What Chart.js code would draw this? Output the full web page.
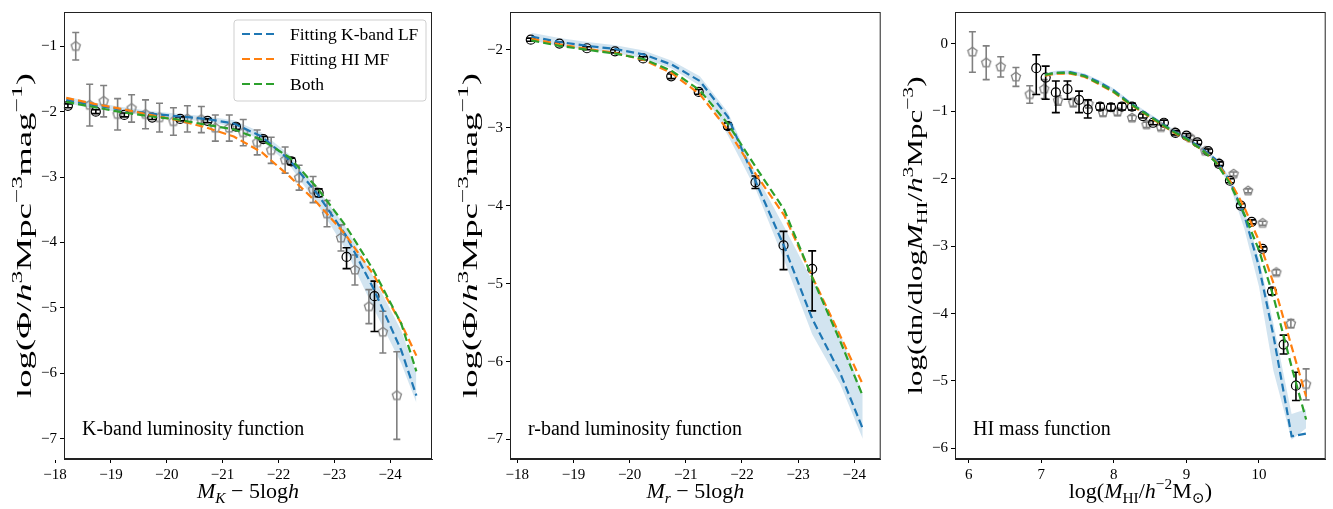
<!DOCTYPE html>
<html>
<head>
<meta charset="utf-8">
<script src="https://cdn.jsdelivr.net/npm/chart.js@4.4.0/dist/chart.umd.min.js"></script>
<style>
  html, body { margin: 0; padding: 0; background: #fff; }
  #wrap { position: relative; width: 1333px; height: 509px; overflow: hidden; }
  canvas { position: absolute; top: 0; }
</style>
</head>
<body>
<div id="wrap">
  <canvas id="kband" width="442" height="509" style="left:0px;width:442px;height:509px"></canvas>
  <canvas id="rband" width="444" height="509" style="left:446px;width:444px;height:509px"></canvas>
  <canvas id="himf" width="443" height="509" style="left:890px;width:443px;height:509px"></canvas>
</div>
<script>
const SERIF = '"Liberation Serif", "DejaVu Serif", serif';
const seriesNames = ['Fitting K-band LF', 'Fitting HI MF', 'Both'];

// ---- K-band luminosity function ----
const kTicksX = [-18, -19, -20, -21, -22, -23, -24];
const kTicksY = [-1, -2, -3, -4, -5, -6, -7];
const kLineX  = [-18.2, -18.7, -19.2, -19.7, -20.2, -20.7, -21.2, -21.7, -22.2, -22.7, -23.2, -23.7, -24.2, -24.47];
const kBlue   = [-1.82, -1.90, -1.97, -2.03, -2.07, -2.11, -2.18, -2.38, -2.74, -3.26, -3.88, -4.70, -5.65, -6.34];
const kOrange = [-1.79, -1.88, -1.96, -2.05, -2.13, -2.24, -2.38, -2.62, -2.99, -3.40, -3.88, -4.49, -5.24, -5.73];
const kGreen  = [-1.85, -1.93, -2.01, -2.07, -2.12, -2.20, -2.27, -2.43, -2.70, -3.17, -3.74, -4.42, -5.24, -5.97];
const kBandHi = [-1.77, -1.86, -1.93, -1.99, -2.03, -2.07, -2.13, -2.32, -2.66, -3.18, -3.76, -4.52, -5.35, -6.00];
const kBandLo = [-1.87, -1.95, -2.01, -2.07, -2.11, -2.15, -2.23, -2.44, -2.82, -3.42, -4.10, -5.00, -5.85, -6.45];
const kBlackX  = [-18.23, -18.73, -19.24, -19.74, -20.24, -20.73, -21.24, -21.73, -22.23, -22.72, -23.22, -23.72];
const kBlackY  = [-1.91, -2.00, -2.05, -2.09, -2.11, -2.14, -2.23, -2.42, -2.76, -3.24, -4.22, -4.82];
const kBlackUp = [0.03, 0.03, 0.03, 0.03, 0.03, 0.03, 0.04, 0.04, 0.05, 0.06, 0.14, 0.23];
const kBlackDn = [0.03, 0.03, 0.03, 0.03, 0.03, 0.03, 0.04, 0.04, 0.05, 0.06, 0.18, 0.54];
const kGrayX = [-18.37, -18.62, -18.87, -19.12, -19.37, -19.62, -19.87, -20.12, -20.37, -20.62, -20.87, -21.12,
                -21.37, -21.62, -21.87, -22.12, -22.37, -22.62, -22.87, -23.12, -23.37, -23.62, -23.87, -24.12];
const kGrayY = [-1.00, -1.90, -1.84, -2.04, -1.95, -2.04, -2.09, -2.15, -2.11, -2.12, -2.25, -2.25,
                -2.32, -2.47, -2.59, -2.74, -3.01, -3.19, -3.56, -3.93, -4.42, -4.98, -5.37, -6.34];
const kGrayErr = [0.21, 0.32, 0.24, 0.24, 0.21, 0.22, 0.22, 0.21, 0.20, 0.20, 0.20, 0.20,
                  0.20, 0.19, 0.20, 0.20, 0.19, 0.20, 0.20, 0.20, 0.23, 0.26, 0.32, 0.67];

// ---- r-band luminosity function ----
const rTicksX = [-18, -19, -20, -21, -22, -23, -24];
const rTicksY = [-2, -3, -4, -5, -6, -7];
const rLineX  = [-18.25, -18.75, -19.25, -19.75, -20.25, -20.75, -21.25, -21.75, -22.25, -22.75, -23.25, -23.75, -24.15];
const rBlue   = [-1.83, -1.90, -1.95, -1.99, -2.06, -2.19, -2.40, -2.86, -3.70, -4.52, -5.45, -6.15, -6.86];
const rOrange = [-1.86, -1.93, -1.99, -2.04, -2.13, -2.30, -2.57, -3.03, -3.60, -4.12, -4.91, -5.67, -6.29];
const rGreen  = [-1.88, -1.95, -2.00, -2.05, -2.12, -2.27, -2.52, -2.95, -3.51, -4.05, -4.92, -5.74, -6.44];
const rBandHi = [-1.78, -1.85, -1.90, -1.94, -2.01, -2.14, -2.34, -2.80, -3.60, -4.27, -4.96, -5.64, -6.42];
const rBandLo = [-1.88, -1.95, -2.00, -2.04, -2.11, -2.24, -2.46, -3.10, -3.80, -4.70, -5.65, -6.29, -6.99];
const rBlackX  = [-18.24, -18.75, -19.24, -19.74, -20.24, -20.74, -21.23, -21.75, -22.24, -22.74, -23.25];
const rBlackY  = [-1.87, -1.92, -1.98, -2.02, -2.11, -2.34, -2.54, -2.98, -3.70, -4.51, -4.81];
const rBlackUp = [0.02, 0.02, 0.02, 0.02, 0.02, 0.03, 0.03, 0.04, 0.08, 0.18, 0.23];
const rBlackDn = [0.02, 0.02, 0.02, 0.02, 0.02, 0.03, 0.03, 0.04, 0.08, 0.31, 0.54];

// ---- HI mass function ----
const hTicksX = [6, 7, 8, 9, 10];
const hTicksY = [0, -1, -2, -3, -4, -5, -6];
const hLineX  = [7.05, 7.2, 7.4, 7.6, 7.8, 8.0, 8.2, 8.4, 8.6, 8.8, 9.0, 9.2, 9.4, 9.6, 9.8, 10.0, 10.2, 10.45, 10.65];
const hBlue   = [-0.46, -0.43, -0.42, -0.47, -0.57, -0.69, -0.86, -1.00, -1.14, -1.28, -1.40, -1.54, -1.71, -2.03, -2.55, -3.30, -4.33, -5.82, -5.78];
const hOrange = [-0.47, -0.44, -0.44, -0.49, -0.60, -0.72, -0.88, -1.02, -1.16, -1.30, -1.42, -1.56, -1.74, -2.03, -2.43, -2.92, -3.55, -4.49, -5.23];
const hGreen  = [-0.46, -0.43, -0.43, -0.48, -0.59, -0.71, -0.87, -1.01, -1.15, -1.29, -1.41, -1.56, -1.75, -2.07, -2.53, -3.06, -3.75, -4.79, -5.57];
const hBandHi = [-0.43, -0.40, -0.39, -0.44, -0.54, -0.66, -0.83, -0.97, -1.11, -1.25, -1.37, -1.51, -1.68, -1.98, -2.48, -3.18, -4.15, -5.49, -5.42];
const hBandLo = [-0.49, -0.46, -0.45, -0.50, -0.60, -0.72, -0.89, -1.03, -1.17, -1.31, -1.43, -1.57, -1.75, -2.10, -2.75, -3.60, -4.85, -5.87, -5.70];
const hBlackX  = [6.93, 7.06, 7.20, 7.36, 7.52, 7.64, 7.81, 7.96, 8.11, 8.25, 8.40, 8.54, 8.69,
                  8.85, 9.00, 9.15, 9.30, 9.45, 9.60, 9.75, 9.90, 10.05, 10.18, 10.34, 10.51];
const hBlackY  = [-0.36, -0.50, -0.72, -0.67, -0.83, -0.97, -0.93, -0.94, -0.93, -0.93, -1.07, -1.17, -1.17,
                  -1.32, -1.36, -1.46, -1.59, -1.78, -2.03, -2.40, -2.64, -3.04, -3.67, -4.46, -5.07];
const hBlackUp = [0.20, 0.17, 0.17, 0.12, 0.13, 0.14, 0.05, 0.05, 0.05, 0.05, 0.03, 0.03, 0.04,
                  0.03, 0.03, 0.03, 0.03, 0.03, 0.03, 0.03, 0.03, 0.03, 0.05, 0.14, 0.20];
const hBlackDn = [0.39, 0.32, 0.30, 0.15, 0.19, 0.13, 0.05, 0.05, 0.05, 0.05, 0.03, 0.03, 0.04,
                  0.03, 0.03, 0.03, 0.03, 0.03, 0.03, 0.03, 0.03, 0.03, 0.05, 0.14, 0.22];
const hGrayX = [6.05, 6.24, 6.44, 6.65, 6.84, 7.04, 7.23, 7.44, 7.65, 7.85, 8.05, 8.25,
                8.45, 8.65, 8.84, 9.05, 9.26, 9.45, 9.65, 9.85, 10.05, 10.24, 10.44, 10.65];
const hGrayY = [-0.12, -0.28, -0.34, -0.49, -0.75, -0.67, -0.84, -0.87, -0.89, -1.02, -1.01, -1.10,
                -1.20, -1.24, -1.31, -1.39, -1.59, -1.77, -1.93, -2.18, -2.66, -3.39, -4.15, -5.05];
const hGrayErr = [0.30, 0.25, 0.15, 0.14, 0.13, 0.14, 0.07, 0.06, 0.06, 0.05, 0.05, 0.04,
                  0.04, 0.04, 0.03, 0.03, 0.03, 0.03, 0.03, 0.03, 0.03, 0.04, 0.06, 0.23];

const BLUE = '#1f77b4', ORANGE = '#ff7f0e', GREEN = '#2ca02c', GRAY = '#808080';

const pts = (xs, ys) => xs.map((x, i) => ({ x: x, y: ys[i] }));
const fmt = v => v < 0 ? '\u2212' + Math.abs(v) : String(v);

// gray pentagon marker, drawn once and used as pointStyle
function pentagon(color, r) {
  const c = document.createElement('canvas');
  const s = Math.ceil(2 * r + 4);
  c.width = c.height = s;
  const g = c.getContext('2d');
  g.strokeStyle = color;
  g.lineWidth = 1.3;
  g.beginPath();
  for (let i = 0; i < 5; i++) {
    const a = -Math.PI / 2 + i * 2 * Math.PI / 5;
    const px = s / 2 + r * Math.cos(a), py = s / 2 + r * Math.sin(a);
    i ? g.lineTo(px, py) : g.moveTo(px, py);
  }
  g.closePath();
  g.stroke();
  return c;
}
const grayMark = pentagon(GRAY, 4.8);

// text with italics, sub- and superscripts; segs = [[text, flags]]
// optional len stretches the run to that length
function drawRich(ctx, segs, x, y, size, len) {
  let w = 0;
  const parts = segs.map(([t, f = '']) => {
    const small = f.includes('_') || f.includes('^');
    const fs = small ? size * 0.7 : size;
    const font = (f.includes('i') ? 'italic ' : '') + fs + 'px ' + SERIF;
    ctx.font = font;
    const pw = ctx.measureText(t).width;
    w += pw;
    return { t, font, pw, dy: f.includes('_') ? size * 0.22 : f.includes('^') ? -size * 0.4 : 0 };
  });
  ctx.save();
  ctx.translate(x, y);
  if (len) ctx.scale(len / w, 1);
  let cx = -w / 2;
  ctx.textAlign = 'left';
  ctx.textBaseline = 'alphabetic';
  parts.forEach(p => { ctx.font = p.font; ctx.fillText(p.t, cx, p.dy); cx += p.pw; });
  ctx.restore();
}

const errorBars = {
  id: 'errorBars',
  beforeDatasetDraw(chart, args) {
    const ds = chart.data.datasets[args.index];
    if (!ds.errUp) return;
    const { ctx, scales: { x, y } } = chart;
    const cap = ds.capSize;
    ctx.save();
    ctx.strokeStyle = ds.borderColor;
    ctx.lineWidth = 1.6;
    ds.data.forEach((p, i) => {
      const px = x.getPixelForValue(p.x);
      const top = y.getPixelForValue(p.y + ds.errUp[i]);
      const bot = y.getPixelForValue(p.y - ds.errDn[i]);
      ctx.beginPath();
      ctx.moveTo(px, top); ctx.lineTo(px, bot);
      ctx.moveTo(px - cap, top); ctx.lineTo(px + cap, top);
      ctx.moveTo(px - cap, bot); ctx.lineTo(px + cap, bot);
      ctx.stroke();
    });
    ctx.restore();
  }
};

// frame, axis titles, panel note and (first panel) legend
const deco = {
  id: 'deco',
  afterDraw(chart, args, o) {
    const { ctx, chartArea: a } = chart;
    ctx.save();
    ctx.strokeStyle = '#222';
    ctx.lineWidth = 1;
    ctx.strokeRect(a.left + 0.5, a.top + 0.5, a.right - a.left - 1, a.bottom - a.top - 1);
    ctx.fillStyle = '#000';
    drawRich(ctx, o.xTitle, (a.left + a.right) / 2, 498, 22);
    ctx.save();
    ctx.translate(a.left - 33, (a.top + a.bottom) / 2);
    ctx.rotate(-Math.PI / 2);
    drawRich(ctx, o.yTitle, 0, 0, 22, o.yLen);
    ctx.restore();
    ctx.font = '20px ' + SERIF;
    ctx.textAlign = 'left';
    ctx.fillText(o.note, a.left + 18, a.bottom - 24);
    if (o.legend) {
      const bx = a.left + 170, by = a.top + 8, bw = 192, bh = 81;
      ctx.beginPath();
      ctx.roundRect(bx, by, bw, bh, 3);
      ctx.fillStyle = 'rgba(255,255,255,0.85)';
      ctx.fill();
      ctx.strokeStyle = '#cfcfcf';
      ctx.stroke();
      [BLUE, ORANGE, GREEN].forEach((c, i) => {
        const ly = by + 14 + i * 25;
        ctx.beginPath();
        ctx.setLineDash([8, 4]);
        ctx.strokeStyle = c;
        ctx.lineWidth = 2.2;
        ctx.moveTo(bx + 8, ly); ctx.lineTo(bx + 43, ly);
        ctx.stroke();
        ctx.setLineDash([]);
        ctx.fillStyle = '#000';
        ctx.font = '17.5px ' + SERIF;
        ctx.textBaseline = 'middle';
        ctx.fillText(seriesNames[i], bx + 56, ly + 1);
      });
    }
    ctx.restore();
  }
};

function axes(xr, xTicks, yr, yTicks, reverse, leftW) {
  const common = () => ({
    type: 'linear',
    grid: { drawOnChartArea: false, drawTicks: true, tickLength: 4, color: '#000' },
    border: { display: true, color: '#222', width: 1 },
    ticks: { color: '#000', font: { family: SERIF, size: 15 }, padding: 3, callback: fmt }
  });
  return {
    x: Object.assign(common(), {
      min: xr[0], max: xr[1], reverse: reverse,
      afterBuildTicks: s => { s.ticks = xTicks.map(v => ({ value: v })); },
      afterFit: s => { s.height = 50; }
    }),
    y: Object.assign(common(), {
      min: yr[0], max: yr[1],
      afterBuildTicks: s => { s.ticks = yTicks.map(v => ({ value: v })); },
      afterFit: s => { s.width = leftW; }
    })
  };
}

function dashed(label, xs, ys, color, order) {
  return { label, data: pts(xs, ys), borderColor: color, borderWidth: 2.2, borderDash: [8, 4],
           pointRadius: 0, fill: false, tension: 0, order };
}

function panelSets(lineX, blue, orange, green, hi, lo, black, gray) {
  const sets = [
    { data: pts(lineX, hi), fill: '+1', backgroundColor: 'rgba(31,119,180,0.2)', borderColor: 'rgba(0,0,0,0)',
      borderWidth: 0, pointRadius: 0, order: 9 },
    { data: pts(lineX, lo), fill: false, borderColor: 'rgba(0,0,0,0)', borderWidth: 0, pointRadius: 0, order: 9 }
  ];
  if (gray) {
    sets.push({ data: pts(gray.x, gray.y), showLine: false, pointStyle: grayMark, pointRadius: 5,
                borderColor: GRAY, errUp: gray.err, errDn: gray.err, capSize: 3.5, order: 8 });
  }
  sets.push({ data: pts(black.x, black.y), showLine: false, pointStyle: 'circle', pointRadius: 4.5,
              pointBorderWidth: 1.2, borderColor: '#000', backgroundColor: 'rgba(0,0,0,0)',
              errUp: black.up, errDn: black.dn, capSize: 4, order: 7 });
  sets.push(dashed(seriesNames[0], lineX, blue, BLUE, 6));
  sets.push(dashed(seriesNames[1], lineX, orange, ORANGE, 5));
  sets.push(dashed(seriesNames[2], lineX, green, GREEN, 4));
  return sets;
}

function makeChart(id, datasets, scales, padRight, decoOpts) {
  return new Chart(document.getElementById(id), {
    type: 'line',
    data: { datasets },
    options: {
      responsive: false, animation: false, devicePixelRatio: 1, events: [],
      layout: { padding: { top: 6, right: padRight, left: 0, bottom: 0 } },
      scales,
      plugins: { legend: { display: false }, tooltip: { enabled: false }, deco: decoOpts }
    },
    plugins: [errorBars, deco]
  });
}

Chart.defaults.font.family = SERIF;

makeChart('kband',
  panelSets(kLineX, kBlue, kOrange, kGreen, kBandHi, kBandLo,
            { x: kBlackX, y: kBlackY, up: kBlackUp, dn: kBlackDn },
            { x: kGrayX, y: kGrayY, err: kGrayErr }),
  axes([-24.75, -18.16], kTicksX, [-7.31, -0.476], kTicksY, true, 64), 10,
  { xTitle: [['M', 'i'], ['K', 'i_'], [' \u2212 5log'], ['h', 'i']],
    yTitle: [['log(\u03A6/'], ['h', 'i'], ['3', '^'], ['Mpc'], ['\u22123', '^'], ['mag'], ['\u22121', '^'], [')']],
    yLen: 325, note: 'K-band luminosity function', legend: true });

makeChart('rband',
  panelSets(rLineX, rBlue, rOrange, rGreen, rBandHi, rBandLo,
            { x: rBlackX, y: rBlackY, up: rBlackUp, dn: rBlackDn }, null),
  axes([-24.47, -17.87], rTicksX, [-7.25, -1.515], rTicksY, true, 64), 9.3,
  { xTitle: [['M', 'i'], ['r', 'i_'], [' \u2212 5log'], ['h', 'i']],
    yTitle: [['log(\u03A6/'], ['h', 'i'], ['3', '^'], ['Mpc'], ['\u22123', '^'], ['mag'], ['\u22121', '^'], [')']],
    yLen: 325, note: 'r-band luminosity function', legend: false });

makeChart('himf',
  panelSets(hLineX, hBlue, hOrange, hGreen, hBandHi, hBandLo,
            { x: hBlackX, y: hBlackY, up: hBlackUp, dn: hBlackDn },
            { x: hGrayX, y: hGrayY, err: hGrayErr }),
  axes([5.81, 10.92], hTicksX, [-6.157, 0.473], hTicksY, false, 65), 7.3,
  { xTitle: [['log('], ['M', 'i'], ['HI', '_'], ['/'], ['h', 'i'], ['\u22122', '^'], ['M'], ['\u2299', '_'], [')']],
    yTitle: [['log(dn/dlog'], ['M', 'i'], ['HI', '_'], ['/'], ['h', 'i'], ['3', '^'], ['Mpc'], ['\u22123', '^'], [')']],
    yLen: 318, note: 'HI mass function', legend: false });
</script>
</body>
</html>
